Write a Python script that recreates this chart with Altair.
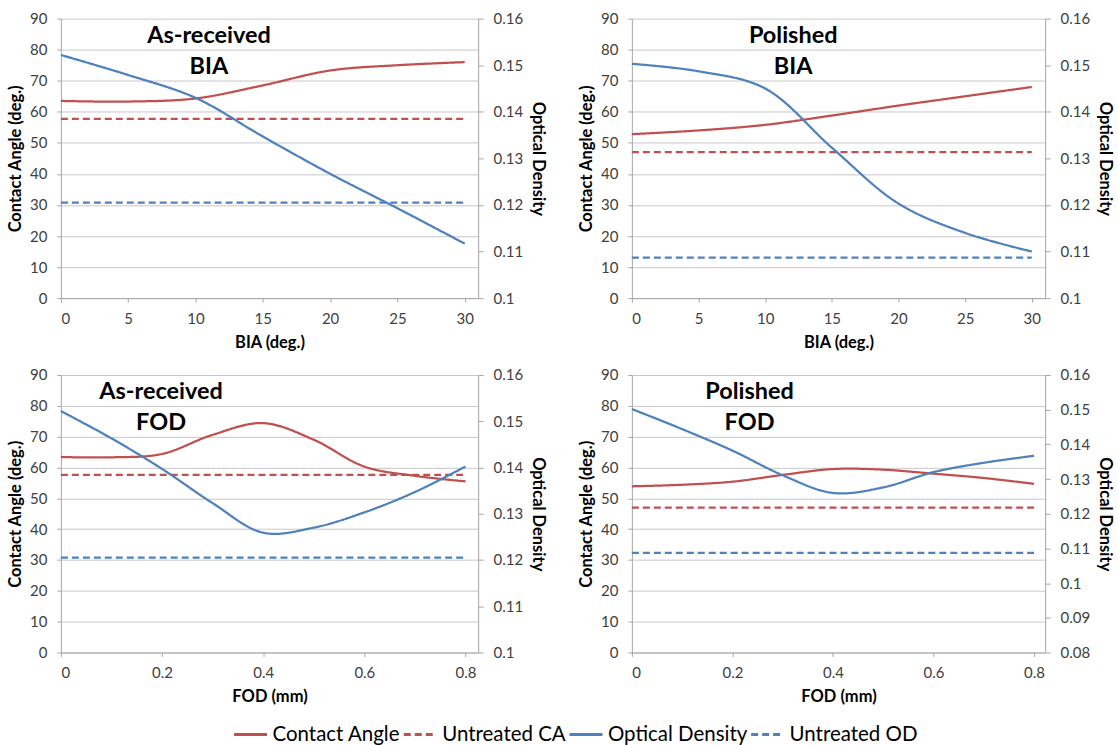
import altair as alt
import pandas as pd

FONT = "Lato"
RED = "#C0504D"
BLUE = "#4F81BD"

series_names = ["Contact Angle", "Untreated CA", "Optical Density", "Untreated OD"]

# ---------------- data ----------------
bia_x = [0, 5, 10, 15, 20, 25, 30]
fod_x = [0, 0.1, 0.2, 0.3, 0.4, 0.5, 0.6, 0.7, 0.8]

# As-received, BIA
ar_bia_ca = [63.5, 63.3, 64.3, 68.5, 73.3, 75.0, 76.0]
ar_bia_od = [0.1522, 0.1479, 0.1430, 0.1347, 0.1267, 0.1193, 0.1117]
ar_bia_uca = 57.7
ar_bia_uod = 0.1205

# Polished, BIA
po_bia_ca = [52.8, 54.0, 55.8, 58.8, 62.0, 65.0, 68.0]
po_bia_od = [0.1503, 0.1487, 0.1450, 0.1323, 0.1203, 0.1140, 0.1100]
po_bia_uca = 47.0
po_bia_uod = 0.1087

# As-received, FOD
ar_fod_ca = [63.4, 63.3, 64.4, 70.6, 74.4, 69.0, 60.3, 57.3, 55.5]
ar_fod_od = [0.1522, 0.1463, 0.1397, 0.1323, 0.1259, 0.1270, 0.1303, 0.1347, 0.1402]
ar_fod_uca = 57.6
ar_fod_uod = 0.1205

# Polished, FOD
po_fod_ca = [53.9, 54.4, 55.4, 57.6, 59.5, 59.3, 58.0, 56.6, 54.7]
po_fod_od = [0.1502, 0.1444, 0.1382, 0.1311, 0.1260, 0.1276, 0.1320, 0.1347, 0.1367]
po_fod_uca = 47.0
po_fod_uod = 0.1087

ca_ticks = [0, 10, 20, 30, 40, 50, 60, 70, 80, 90]
od_ticks_a = [0.1, 0.11, 0.12, 0.13, 0.14, 0.15, 0.16]
od_ticks_b = [0.08, 0.09, 0.1, 0.11, 0.12, 0.13, 0.14, 0.15, 0.16]
bia_ticks = [0, 5, 10, 15, 20, 25, 30]
fod_ticks = [0, 0.2, 0.4, 0.6, 0.8]

color_scale = alt.Scale(domain=series_names, range=[RED, RED, BLUE, BLUE])
dash_scale = alt.Scale(domain=series_names, range=[[1, 0], [7, 4], [1, 0], [7, 4]])


def make_panel(x, ca, od, uca, uod, xdomain, xticks, xtitle, od_domain, od_ticks,
               lab1, lab2, lab_x, w, h):
    ca_df = pd.concat([
        pd.DataFrame({"x": x, "v": ca, "series": "Contact Angle"}),
        pd.DataFrame({"x": [x[0], x[-1]], "v": [uca, uca], "series": "Untreated CA"}),
    ])
    od_df = pd.concat([
        pd.DataFrame({"x": x, "v": od, "series": "Optical Density"}),
        pd.DataFrame({"x": [x[0], x[-1]], "v": [uod, uod], "series": "Untreated OD"}),
    ])
    x_enc = alt.X("x:Q", scale=alt.Scale(domain=xdomain, nice=False, zero=False),
                  axis=alt.Axis(values=xticks, title=xtitle, grid=False, format="~g",
                                tickSize=4, labelPadding=9, titlePadding=8))
    y_ca = alt.Y("v:Q", scale=alt.Scale(domain=[0, 90], nice=False),
                 axis=alt.Axis(values=ca_ticks, title="Contact Angle (deg.)", grid=True,
                               orient="left", tickSize=4, labelPadding=10, titlePadding=6))
    y_od = alt.Y("v:Q", scale=alt.Scale(domain=od_domain, nice=False, zero=False),
                 axis=alt.Axis(values=od_ticks, title="Optical Density", grid=False,
                               orient="right", format="~g", tickSize=5, labelPadding=10,
                               titlePadding=7))
    enc_common = dict(
        color=alt.Color("series:N", scale=color_scale, title=None),
        strokeDash=alt.StrokeDash("series:N", scale=dash_scale, title=None),
        detail="series:N",
    )
    ca_lines = alt.Chart(ca_df).mark_line(interpolate="catmull-rom", strokeWidth=2.25).encode(
        x=x_enc, y=y_ca, **enc_common)
    txt_df = pd.DataFrame({"x": [lab_x, lab_x], "v": [84.5, 74.5], "t": [lab1, lab2]})
    txt = alt.Chart(txt_df).mark_text(font=FONT, fontSize=23.5, fontWeight="bold",
                                      color="black").encode(x=x_enc, y=y_ca, text="t:N")
    od_lines = alt.Chart(od_df).mark_line(interpolate="catmull-rom", strokeWidth=2.25).encode(
        x=x_enc, y=y_od, **enc_common)
    return alt.layer(alt.layer(ca_lines, txt), od_lines).resolve_scale(y="independent").properties(
        width=w, height=h)


p1 = make_panel(bia_x, ar_bia_ca, ar_bia_od, ar_bia_uca, ar_bia_uod, [0, 31], bia_ticks,
                "BIA (deg.)", [0.1, 0.16], od_ticks_a, "As-received", "BIA", 11.0, 418, 280)
p2 = make_panel(bia_x, po_bia_ca, po_bia_od, po_bia_uca, po_bia_uod, [0, 31], bia_ticks,
                "BIA (deg.)", [0.1, 0.16], od_ticks_a, "Polished", "BIA", 12.1, 414, 280)
p3 = make_panel(fod_x, ar_fod_ca, ar_fod_od, ar_fod_uca, ar_fod_uod, [0, 0.825], fod_ticks,
                "FOD (mm)", [0.1, 0.16], od_ticks_a, "As-received", "FOD", 0.198, 418, 278)
p4 = make_panel(fod_x, po_fod_ca, po_fod_od, po_fod_uca, po_fod_uod, [0, 0.822], fod_ticks,
                "FOD (mm)", [0.08, 0.16], od_ticks_b, "Polished", "FOD", 0.234, 414, 278)

chart = alt.vconcat(
    alt.hconcat(p1, p2, spacing=32),
    alt.hconcat(p3, p4, spacing=32),
    spacing=17,
).configure(
    background="white",
    padding={"left": 7, "top": 11, "right": 5, "bottom": 5},
).configure_view(
    stroke=None,
).configure_axis(
    labelFont=FONT, labelFontSize=15, labelColor="#404040",
    titleFont=FONT, titleFontSize=16.5, titleFontWeight="bold", titleColor="black",
    domainColor="#A6A6A6", tickColor="#A6A6A6", gridColor="#C8C8C8",
).configure_legend(
    orient="none", legendX=172, legendY=699, direction="horizontal", columns=4,
    labelFont=FONT, labelFontSize=20.5, labelColor="black",
    symbolType="stroke", symbolSize=1089, symbolStrokeWidth=3,
    labelOffset=4, columnPadding=-3, symbolLimit=10,
)

chart.save("out.html", embed_options={"renderer": "svg", "actions": False})
